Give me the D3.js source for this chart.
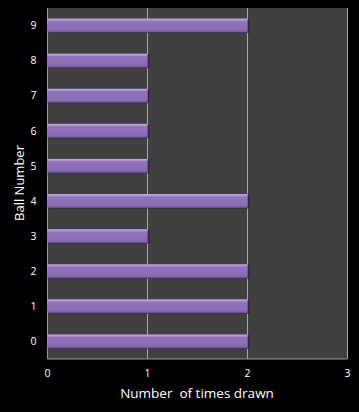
<!DOCTYPE html>
<html><head><meta charset="utf-8">
<script src="https://cdn.jsdelivr.net/npm/d3@7"></script>
<style>body{margin:0;background:#000;}svg{display:block;}</style>
</head><body>
<script>
const categories = ["0","1","2","3","4","5","6","7","8","9"];
const values = [2,2,2,1,2,1,1,1,1,2];
const xTicks = [0,1,2,3];
const xTitle = "Number  of times drawn";
const yTitle = "Ball Number";

const W=359,H=412, L=47.5, R=347.5, T=8, B=359;
const svg=d3.select("body").append("svg").attr("width",W).attr("height",H);
svg.append("rect").attr("width",W).attr("height",H).attr("fill","#000");
const defs=svg.append("defs");
const g=defs.append("linearGradient").attr("id","bg").attr("x1",0).attr("y1",0).attr("x2",0).attr("y2",1);
[[0,"#bca4dc"],[0.12,"#b097d2"],[0.2,"#9274bd"],[0.8,"#8a6cb4"],[0.92,"#785ca2"],[1,"#58437c"]].forEach(([o,c])=>g.append("stop").attr("offset",o).attr("stop-color",c));

const x=d3.scaleLinear().domain([0,3]).range([L,R]);
const y=d3.scaleBand().domain(categories).range([B,T]).paddingInner(0.6).paddingOuter(0.3);

svg.append("rect").attr("x",L).attr("y",T).attr("width",R-L).attr("height",B-T).attr("fill","#404040");
svg.append("g").selectAll("line").data(xTicks).join("line")
  .attr("x1",d=>x(d)).attr("x2",d=>x(d)).attr("y1",T).attr("y2",B)
  .attr("stroke",d=>d===0?"#9a9a9a":"#a8a8a8").attr("stroke-width",1);
svg.append("line").attr("x1",L).attr("x2",R).attr("y1",B).attr("y2",B).attr("stroke","#9a9a9a");

const bars=svg.append("g").selectAll("g").data(categories).join("g");
bars.append("rect").attr("x",d=>x(0)+1).attr("y",d=>y(d)+0.5)
  .attr("width",(d,i)=>x(values[i])+1-x(0)).attr("height",y.bandwidth()).attr("fill","#2a2040").attr("opacity",0.7);
bars.append("rect").attr("x",d=>x(0)).attr("y",d=>y(d))
  .attr("width",(d,i)=>x(values[i])-x(0)).attr("height",y.bandwidth()).attr("fill","url(#bg)");

svg.append("g").selectAll("text").data(categories).join("text")
  .attr("x",36.5).attr("y",d=>y(d)+y.bandwidth()/2).attr("dy","0.35em")
  .attr("text-anchor","end").attr("fill","#fff").attr("font-family","Open Sans, sans-serif").attr("font-size",10.5).text(d=>d);
svg.append("g").selectAll("text").data(xTicks).join("text")
  .attr("x",d=>x(d)).attr("y",377).attr("text-anchor","middle").attr("fill","#fff")
  .attr("font-family","Open Sans, sans-serif").attr("font-size",10.5).text(d=>d);
svg.append("text").attr("x",197).attr("y",398).attr("text-anchor","middle").attr("fill","#fff")
  .attr("font-family","Open Sans, sans-serif").attr("font-size",13.5).attr("xml:space","preserve").style("white-space","pre").text(xTitle);
svg.append("text").attr("transform","translate(23.5,183) rotate(-90)").attr("text-anchor","middle").attr("fill","#fff")
  .attr("font-family","Open Sans, sans-serif").attr("font-size",13).text(yTitle);
</script>
</body></html>
